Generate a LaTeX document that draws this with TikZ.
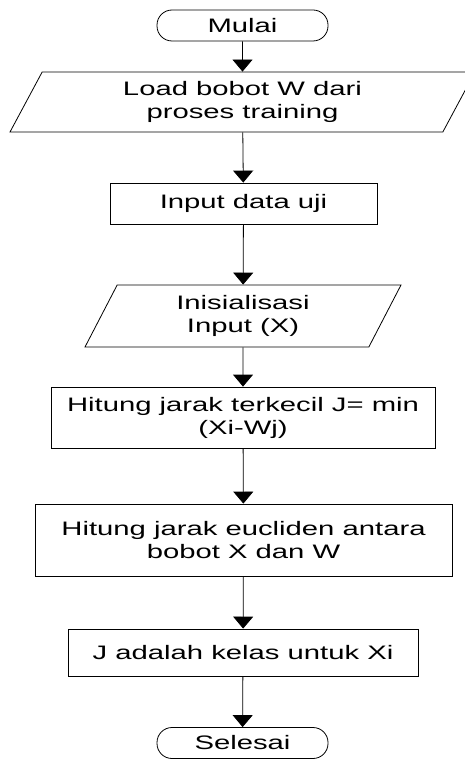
\documentclass[tikz,border=0pt]{standalone}
\usepackage{fontspec}
\setmainfont{Liberation Sans}[FakeStretch=1.5]
\usetikzlibrary{arrows.meta,shapes.geometric}
\tikzset{
  every node/.style={font=\fontsize{19.5}{23}\selectfont, align=center, inner sep=0pt},
  terminal/.style={draw, rectangle, rounded corners=15pt, minimum width=171pt, minimum height=31pt},
  process/.style={draw, rectangle},
  datain/.style={draw, trapezium, trapezium left angle=52, trapezium right angle=128,
    trapezium stretches body},
  flow/.style={-{Triangle[length=12pt,width=20pt]}}
}
\begin{document}
\begin{tikzpicture}[x=1pt,y=-1pt,line width=0.8pt]
  \useasboundingbox (0,0) rectangle (465,762);
  \draw
    (242.5,25.5) node[terminal] (mulai){Mulai}
    (242.5,102) node[datain, minimum width=465pt, minimum height=60pt] (load){Load bobot W dari\\proses training}
    (243.5,203.5) node[process, minimum width=267pt, minimum height=41pt] (uji){Input data uji}
    (243,316) node[datain, minimum width=316pt, minimum height=62pt] (inisial){Inisialisasi\\Input (X)}
    (243,417.5) node[process, minimum width=384pt, minimum height=61pt] (jarak){Hitung jarak terkecil J= min\\(Xi-Wj)}
    (243.5,540) node[process, minimum width=417pt, minimum height=72pt] (euclid){Hitung jarak eucliden antara\\bobot X dan W}
    (243,652.5) node[process, minimum width=350pt, minimum height=47pt] (kelas){J adalah kelas untuk Xi}
    (242.5,743) node[terminal] (selesai){Selesai};
  \begin{scope}[flow]
    \draw (mulai) to (load);
    \draw (load) to (uji);
    \draw (uji) to (inisial);
    \draw (inisial) to (jarak);
    \draw (jarak) to (euclid);
    \draw (euclid) to (kelas);
    \draw (kelas) to (selesai);
  \end{scope}
\end{tikzpicture}
\end{document}
